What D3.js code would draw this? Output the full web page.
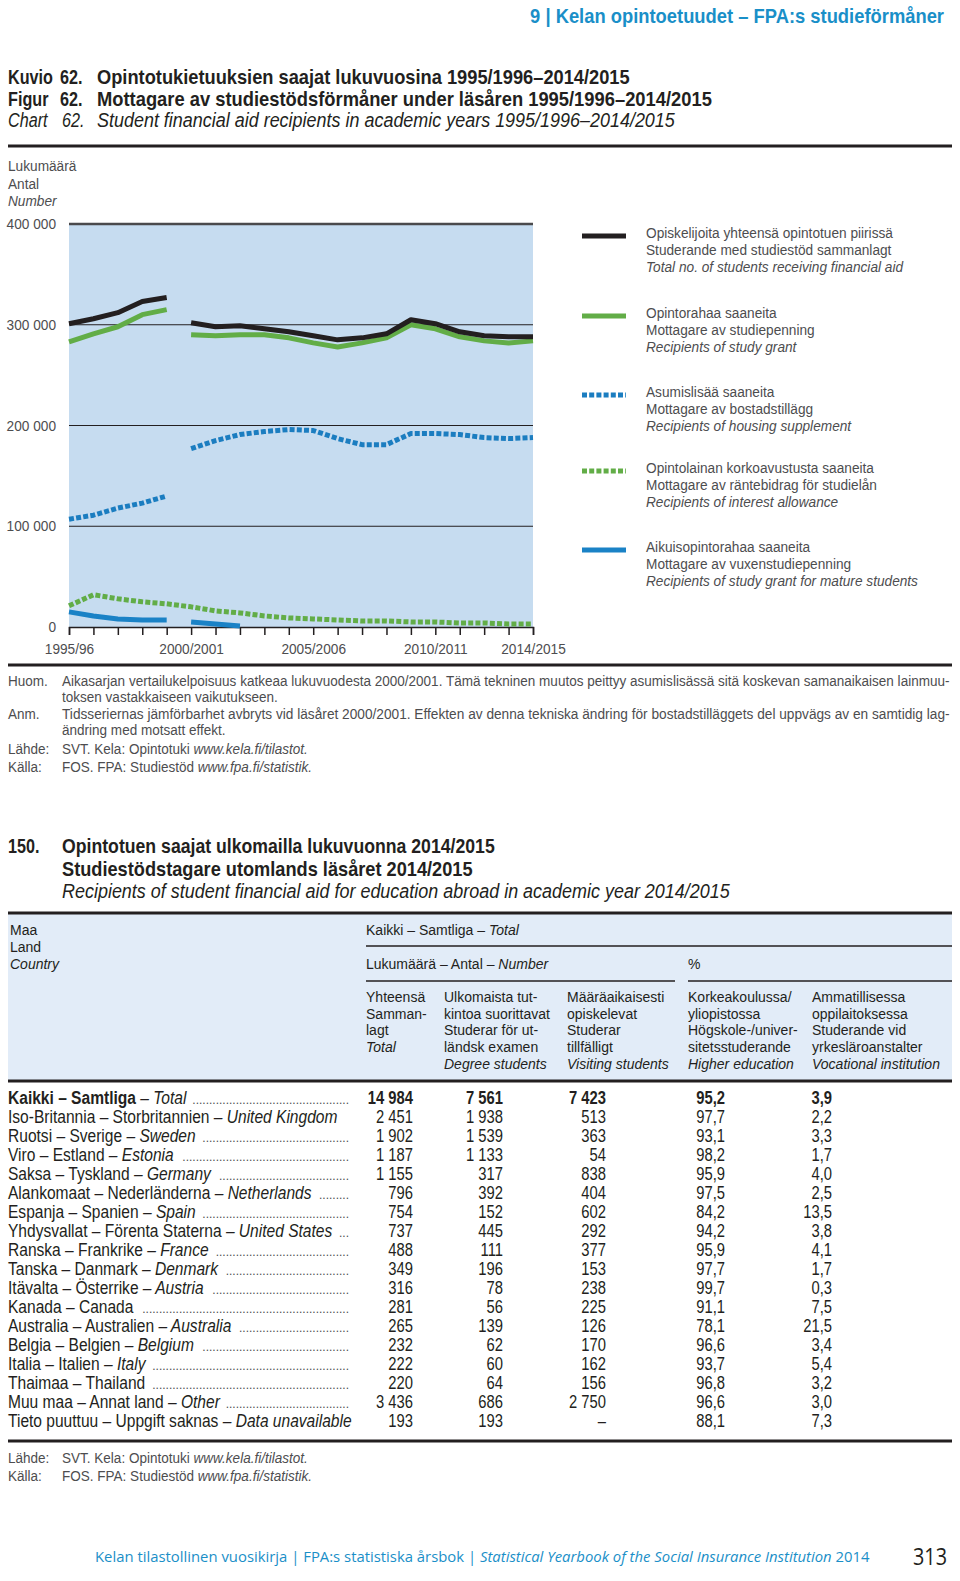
<!DOCTYPE html>
<html>
<head>
<meta charset="utf-8">
<script src="https://cdn.jsdelivr.net/npm/d3@7"></script>
<style>
  body { margin: 0; background: #fff; }
  svg text { font-family: "Liberation Sans", Arial, sans-serif; fill: #231f20; }
</style>
</head>
<body>
<svg id="page"></svg>
<script>
// chart data (thousands), gap between 1999/00 and 2000/01
const years = ["1995/96","1996/97","1997/98","1998/99","1999/00","2000/2001","2001/02","2002/03","2003/04","2004/05",
  "2005/2006","2006/07","2007/08","2008/09","2009/10","2010/2011","2011/12","2012/13","2013/14","2014/2015"];
const tickYears = ["1995/96","2000/2001","2005/2006","2010/2011","2014/2015"];
const yTicks = [0, 100000, 200000, 300000, 400000];
const breakAt = 5;

const totalRecipients = [301,306,312,323,327, 302,298,299,296,293,289,285,287,291,305,301,293,289,288,288];
const studyGrant      = [283,291,298,310,315, 290,289,290,290,287,282,278,282,287,300,296,288,284,282,284];
const housingSupp     = [107,111,118,123,130, 177,185,191,194,196,195,187,181,181,192,192,191,188,187,188];
const interestAllow   = [21,32,28,25,23,20,16,14,11,9,8,7,6,6,5,5,4,4,3,3];
const matureGrant     = [15,11,8,7,7, 5,3,1, null,null,null,null,null,null,null,null,null,null,null,null];

const legendFi = ["Opiskelijoita yhteensä opintotuen piirissä","Opintorahaa saaneita","Asumislisää saaneita","Opintolainan korkoavustusta saaneita","Aikuisopintorahaa saaneita"];
const legendSv = ["Studerande med studiestöd sammanlagt","Mottagare av studiepenning","Mottagare av bostadstillägg","Mottagare av räntebidrag för studielån","Mottagare av vuxenstudiepenning"];
const legendEn = ["Total no. of students receiving financial aid","Recipients of study grant","Recipients of housing supplement","Recipients of interest allowance","Recipients of study grant for mature students"];

// table 150
const countryFi = ["Kaikki – Samtliga","Iso-Britannia – Storbritannien","Ruotsi – Sverige","Viro – Estland","Saksa – Tyskland","Alankomaat – Nederländerna","Espanja – Spanien","Yhdysvallat – Förenta Staterna","Ranska – Frankrike","Tanska – Danmark","Itävalta – Österrike","Kanada – Canada","Australia – Australien","Belgia – Belgien","Italia – Italien","Thaimaa – Thailand","Muu maa – Annat land","Tieto puuttuu – Uppgift saknas"];
const countryEn = ["Total","United Kingdom","Sweden","Estonia","Germany","Netherlands","Spain","United States","France","Denmark","Austria","","Australia","Belgium","Italy","","Other","Data unavailable"];
const totalCol   = ["14 984","2 451","1 902","1 187","1 155","796","754","737","488","349","316","281","265","232","222","220","3 436","193"];
const degreeCol  = ["7 561","1 938","1 539","1 133","317","392","152","445","111","196","78","56","139","62","60","64","686","193"];
const visitCol   = ["7 423","513","363","54","838","404","602","292","377","153","238","225","126","170","162","156","2 750","–"];
const higherCol  = ["95,2","97,7","93,1","98,2","95,9","97,5","84,2","94,2","95,9","97,7","99,7","91,1","78,1","96,6","93,7","96,8","96,6","88,1"];
const vocCol     = ["3,9","2,2","3,3","1,7","4,0","2,5","13,5","3,8","4,1","1,7","0,3","7,5","21,5","3,4","5,4","3,2","3,0","7,3"];

const svg = d3.select("#page").attr("width", 960).attr("height", 1581);

// text drawn with horizontal squeeze (the print font is a condensed face)
function txt(x, y, s, size, opts) {
  opts = opts || {};
  const t = svg.append("text").attr("x", 0).attr("y", 0).text(s)
    .style("font-size", size + "px");
  if (opts.italic) t.style("font-style", "italic");
  if (opts.bold) t.style("font-weight", "bold");
  if (opts.anchor) t.attr("text-anchor", opts.anchor);
  if (opts.fill) t.style("fill", opts.fill);
  if (opts.family) t.style("font-family", opts.family);
  if (opts.tail) opts.tail(t);
  let sx = opts.sx || 0.82;
  if (opts.w) sx = opts.w / t.node().getComputedTextLength();
  t.attr("transform", `translate(${x},${y}) scale(${sx},1)`);
  t.node().__sx = sx;
  return t;
}
function fit(s, size, opts, w) {
  const t = txt(0, 0, s, size, Object.assign({}, opts, {w: w}));
  const sx = t.node().__sx;
  t.remove();
  return sx;
}
function rule(x1, x2, y, w, c) {
  svg.append("line").attr("x1", x1).attr("x2", x2).attr("y1", y).attr("y2", y)
    .attr("stroke", c || "#231f20").attr("stroke-width", w);
}
const it = s => t => t.append("tspan").style("font-style", "italic").text(s);

const blueText = "#1a8fc8";
const gray = "#4d4d4f";

// page header
txt(944, 23, "9 | Kelan opintoetuudet – FPA:s studieförmåner", 19.5, {bold: true, anchor: "end", fill: blueText, w: 414});

// figure titles
const sxT = fit("Kuvio", 20, {bold: true}, 45);
txt(8, 84, "Kuvio", 20, {bold: true, sx: sxT}); txt(60, 84, "62.", 20, {bold: true, sx: sxT});
txt(97, 84, "Opintotukietuuksien saajat lukuvuosina 1995/1996–2014/2015", 20, {bold: true, w: 533});
txt(8, 106, "Figur", 20, {bold: true, sx: sxT}); txt(60, 106, "62.", 20, {bold: true, sx: sxT});
txt(97, 106, "Mottagare av studiestödsförmåner under läsåren 1995/1996–2014/2015", 20, {bold: true, w: 615});
txt(8, 127, "Chart", 20, {italic: true, sx: sxT}); txt(62, 127, "62.", 20, {italic: true, sx: sxT});
txt(97, 127, "Student financial aid recipients in academic years 1995/1996–2014/2015", 20, {italic: true, w: 578});
rule(8, 952, 146, 3);

const ls = 15.5;
const sxL = fit("Opiskelijoita yhteensä opintotuen piirissä", ls, {}, 247);
txt(8, 171, "Lukumäärä", ls, {fill: gray, sx: sxL});
txt(8, 189, "Antal", ls, {fill: gray, sx: sxL});
txt(8, 206, "Number", ls, {fill: gray, italic: true, sx: sxL});

// ---- chart ----
const x = d3.scalePoint().domain(years).range([69, 533]);
const y = d3.scaleLinear().domain([0, 400000]).range([627, 224]);

svg.append("rect").attr("x", 69).attr("y", 224).attr("width", 464).attr("height", 403).attr("fill", "#c6dcf0");

yTicks.forEach(v => {
  if (v > 0) rule(69, 533, y(v), v === 400000 ? 2.5 : 1.2, v === 400000 ? "#4a4a4c" : "#231f20");
  txt(56, y(v) + 5, d3.format(",")(v).replace(/,/g, " "), ls, {anchor: "end", fill: gray, sx: sxL});
});

const xAxis = svg.append("g").attr("transform", "translate(0,627)")
  .call(d3.axisBottom(x).tickSize(8).tickFormat(d => tickYears.includes(d) ? d : ""));
xAxis.select(".domain").attr("stroke", "#231f20").attr("stroke-width", 1.5);
xAxis.selectAll(".tick line").attr("stroke", "#231f20").attr("stroke-width", 1.5);
xAxis.selectAll(".tick text").attr("dy", "1.05em").style("font-size", ls + "px").style("fill", gray)
  .attr("transform", `scale(${sxL},1)`);

const line = d3.line().defined(d => d.v != null).x(d => x(d.year)).y(d => y(d.v * 1000));

const series = [
  {vals: totalRecipients, color: "#231f20", dash: null, split: true},
  {vals: studyGrant, color: "#62ad47", dash: null, split: true},
  {vals: housingSupp, color: "#1b7dc0", dash: "5,2.2", split: true},
  {vals: interestAllow, color: "#62ad47", dash: "5,2.2", split: false},
  {vals: matureGrant, color: "#1a82c6", dash: null, split: true}
];
// draw lower series first
[3, 4, 2, 1, 0].forEach(i => {
  const s = series[i];
  const pts = s.vals.map((v, j) => ({year: years[j], v: v}));
  const parts = s.split ? [pts.slice(0, breakAt), pts.slice(breakAt)] : [pts];
  parts.forEach(p => {
    svg.append("path").attr("d", line(p)).attr("fill", "none")
      .attr("stroke", s.color).attr("stroke-width", 5)
      .attr("stroke-dasharray", s.dash)
      .attr("stroke-linejoin", "round");
  });
});

// legend
const legY = [236, 316, 395, 471, 550];
series.forEach((s, i) => {
  svg.append("line").attr("x1", 582).attr("x2", 626).attr("y1", legY[i]).attr("y2", legY[i])
    .attr("stroke", s.color).attr("stroke-width", 5).attr("stroke-dasharray", s.dash);
  txt(646, legY[i] + 2, legendFi[i], ls, {fill: gray, sx: sxL});
  txt(646, legY[i] + 19, legendSv[i], ls, {fill: gray, sx: sxL});
  txt(646, legY[i] + 36, legendEn[i], ls, {fill: gray, italic: true, sx: sxL});
});

rule(8, 952, 665, 3);

// notes
const n = 14.5;
const note1 = "Aikasarjan vertailukelpoisuus katkeaa lukuvuodesta 2000/2001. Tämä tekninen muutos peittyy asumislisässä sitä koskevan samanaikaisen lainmuu-";
const note2 = "Tidsseriernas jämförbarhet avbryts vid läsåret 2000/2001. Effekten av denna tekniska ändring för bostadstilläggets del uppvägs av en samtidig lag-";
const sxN = fit(note1, n, {}, 888);
txt(8, 686, "Huom.", n, {fill: gray, sx: sxN});
txt(62, 686, note1, n, {fill: gray, sx: sxN});
txt(62, 702, "toksen vastakkaiseen vaikutukseen.", n, {fill: gray, sx: sxN});
txt(8, 719, "Anm.", n, {fill: gray, sx: sxN});
txt(62, 719, note2, n, {fill: gray, w: 888});
txt(62, 735, "ändring med motsatt effekt.", n, {fill: gray, sx: sxN});
function source(yy) {
  txt(8, yy, "Lähde:", n, {fill: gray, sx: sxN});
  txt(62, yy, "SVT. Kela: Opintotuki ", n, {fill: gray, sx: sxN, tail: it("www.kela.fi/tilastot.")});
  txt(8, yy + 18, "Källa:", n, {fill: gray, sx: sxN});
  txt(62, yy + 18, "FOS. FPA: Studiestöd ", n, {fill: gray, sx: sxN, tail: it("www.fpa.fi/statistik.")});
}
source(754);

// ---- table 150 ----
txt(8, 853, "150.", 20, {bold: true, sx: sxT});
txt(62, 853, "Opintotuen saajat ulkomailla lukuvuonna 2014/2015", 20, {bold: true, w: 433});
txt(62, 876, "Studiestödstagare utomlands läsåret 2014/2015", 20, {bold: true, w: 411});
txt(62, 898, "Recipients of student financial aid for education abroad in academic year 2014/2015", 20, {italic: true, w: 668});

svg.append("rect").attr("x", 8).attr("y", 913).attr("width", 944).attr("height", 167).attr("fill", "#e2ecf8");
rule(8, 952, 913, 3);
rule(8, 952, 1081, 3);
rule(366, 952, 946, 1.5);
rule(366, 675, 981, 1.5);
rule(688, 952, 981, 1.5);

const h = 15.5;
const sxH = fit("Vocational institution", h, {italic: true}, 128);
txt(10, 935, "Maa", h, {sx: sxH}); txt(10, 952, "Land", h, {sx: sxH}); txt(10, 969, "Country", h, {italic: true, sx: sxH});
txt(366, 935, "Kaikki – Samtliga – ", h, {sx: sxH, tail: it("Total")});
txt(366, 969, "Lukumäärä – Antal – ", h, {sx: sxH, tail: it("Number")});
txt(688, 969, "%", h, {sx: sxH});

const headCols = [
  {x: 366, lines: ["Yhteensä","Samman-","lagt"], en: "Total"},
  {x: 444, lines: ["Ulkomaista tut-","kintoa suorittavat","Studerar för ut-","ländsk examen"], en: "Degree students"},
  {x: 567, lines: ["Määräaikaisesti","opiskelevat","Studerar","tillfälligt"], en: "Visiting students"},
  {x: 688, lines: ["Korkeakoulussa/","yliopistossa","Högskole-/univer-","sitetsstuderande"], en: "Higher education"},
  {x: 812, lines: ["Ammatillisessa","oppilaitoksessa","Studerande vid","yrkesläroanstalter"], en: "Vocational institution"}
];
headCols.forEach(c => {
  c.lines.forEach((s, i) => txt(c.x, 1002 + i * 16.7, s, h, {sx: sxH}));
  txt(c.x, 1002 + c.lines.length * 16.7, c.en, h, {italic: true, sx: sxH});
});

const rowY = d3.scalePoint().domain(d3.range(countryFi.length)).range([1104, 1427]);
const colRight = [413, 503, 606, 725, 832];
const cols = [totalCol, degreeCol, visitCol, higherCol, vocCol];
const rs = 18.5;
const sxR = fit("Tieto puuttuu – Uppgift saknas – ", rs, {tail: it("Data unavailable")}, 344);
const sxNum = fit("1 938", rs, {}, 37);
countryFi.forEach((name, i) => {
  const yy = rowY(i);
  const bold = i === 0;
  const t = txt(8, yy, "", rs, {sx: sxR});
  t.append("tspan").style("font-weight", bold ? "bold" : null).text(name);
  if (countryEn[i]) t.append("tspan").style("font-style", "italic").text(" – " + countryEn[i]);
  const w = t.node().getComputedTextLength() * sxR;
  if (8 + w < 335) {
    const dots = svg.append("text").attr("x", 349).attr("y", yy).attr("text-anchor", "end")
      .style("font-size", "12px").style("fill", gray);
    let s = "";
    while (dots.node().getComputedTextLength() < 349 - (8 + w) - 9) { s += "."; dots.text(s); }
  }
  cols.forEach((c, j) => {
    txt(colRight[j], yy, c[i], rs, {anchor: "end", bold: bold, sx: sxNum});
  });
});
rule(8, 952, 1441, 3);
source(1463);

// footer
txt(95, 1562, "Kelan tilastollinen vuosikirja | FPA:s statistiska årsbok | ", 15, {fill: blueText, family: "'Open Sans', sans-serif", w: 775,
  tail: t => { it("Statistical Yearbook of the Social Insurance Institution")(t); t.append("tspan").text(" 2014"); }});
txt(947, 1565, "313", 23, {anchor: "end", family: "'Open Sans', sans-serif", w: 34});
</script>
</body>
</html>
